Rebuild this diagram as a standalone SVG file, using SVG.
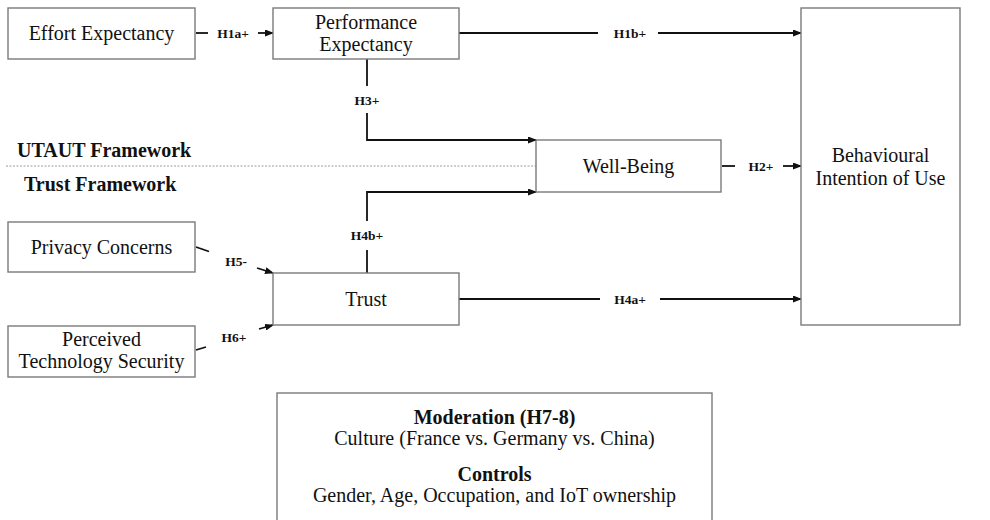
<svg xmlns="http://www.w3.org/2000/svg" width="990" height="520" viewBox="0 0 990 520">
<style>
.box{fill:#fff;stroke:#7a7a7a;stroke-width:1.4}
.t{font-family:"Liberation Serif","Times New Roman",serif;font-size:20px;fill:#111;text-anchor:middle}
.b{font-family:"Liberation Serif","Times New Roman",serif;font-size:20px;font-weight:bold;fill:#111}
.h{font-family:"Liberation Serif","Times New Roman",serif;font-size:13.5px;font-weight:bold;fill:#111;text-anchor:middle}
.c{fill:none;stroke:#111;stroke-width:1.8}
.ca{fill:none;stroke:#111;stroke-width:1.8;marker-end:url(#ah)}
</style>
<defs>
<marker id="ah" markerUnits="userSpaceOnUse" markerWidth="9" markerHeight="7" refX="8" refY="3.5" orient="auto">
<path d="M0,0 L9,3.5 L0,7 z" fill="#111"/>
</marker>
</defs>
<rect width="990" height="520" fill="#fff"/>
<g id="frameworks">
<line x1="6" y1="166" x2="536" y2="166" stroke="#9a9a9a" stroke-width="1" stroke-dasharray="2,1.5"/>
<text class="b" x="17" y="157">UTAUT Framework</text>
<text class="b" x="24" y="191">Trust Framework</text>
</g>
<g id="connectors">
<line class="c" x1="196" y1="33" x2="208" y2="33"/>
<line class="ca" x1="258" y1="33" x2="273" y2="33"/>
<text class="h" x="233" y="37.5">H1a+</text>
<line class="c" x1="459" y1="33" x2="598" y2="33"/>
<line class="ca" x1="658" y1="33" x2="801" y2="33"/>
<text class="h" x="630" y="37.5">H1b+</text>
<path class="c" d="M367,59 V86"/>
<path class="ca" d="M367,113 V140 H536"/>
<text class="h" x="367" y="105">H3+</text>
<path class="c" d="M367,273 V250"/>
<path class="ca" d="M367,221 V192 H536"/>
<text class="h" x="367" y="240">H4b+</text>
<line class="c" x1="722" y1="166" x2="735" y2="166"/>
<line class="ca" x1="783" y1="166" x2="801" y2="166"/>
<text class="h" x="761" y="170.5">H2+</text>
<line class="c" x1="459" y1="299" x2="600" y2="299"/>
<line class="ca" x1="660" y1="299" x2="801" y2="299"/>
<text class="h" x="630" y="303.5">H4a+</text>
<line class="c" x1="196" y1="247" x2="209" y2="251.5"/>
<line class="ca" x1="257" y1="268" x2="273" y2="273"/>
<text class="h" x="236" y="266">H5-</text>
<line class="c" x1="196" y1="350" x2="206" y2="347"/>
<line class="ca" x1="259" y1="329" x2="273" y2="325"/>
<text class="h" x="234" y="342">H6+</text>
</g>
<g id="effort">
<rect class="box" x="8" y="8" width="187" height="51"/>
<text class="t" x="101.5" y="40">Effort Expectancy</text>
</g>
<g id="performance">
<rect class="box" x="273" y="8" width="186" height="51"/>
<text class="t" x="366" y="29">Performance</text>
<text class="t" x="366" y="51">Expectancy</text>
</g>
<g id="wellbeing">
<rect class="box" x="536" y="140" width="185" height="52"/>
<text class="t" x="628.5" y="173">Well-Being</text>
</g>
<g id="behavioural">
<rect class="box" x="801" y="8" width="159" height="317"/>
<text class="t" x="880.5" y="162">Behavioural</text>
<text class="t" x="880.5" y="185">Intention of Use</text>
</g>
<g id="privacy">
<rect class="box" x="8" y="222" width="187" height="50"/>
<text class="t" x="101.5" y="254">Privacy Concerns</text>
</g>
<g id="trust">
<rect class="box" x="273" y="273" width="186" height="52"/>
<text class="t" x="366" y="306">Trust</text>
</g>
<g id="security">
<rect class="box" x="8" y="326" width="187" height="51"/>
<text class="t" x="101.5" y="346">Perceived</text>
<text class="t" x="101.5" y="368">Technology Security</text>
</g>
<g id="moderation">
<rect class="box" x="277" y="393" width="435" height="140"/>
<text class="t" x="494.5" y="424" font-weight="bold">Moderation (H7-8)</text>
<text class="t" x="494.5" y="445">Culture (France vs. Germany vs. China)</text>
<text class="t" x="494.5" y="481" font-weight="bold">Controls</text>
<text class="t" x="494.5" y="502">Gender, Age, Occupation, and IoT ownership</text>
</g>
</svg>
